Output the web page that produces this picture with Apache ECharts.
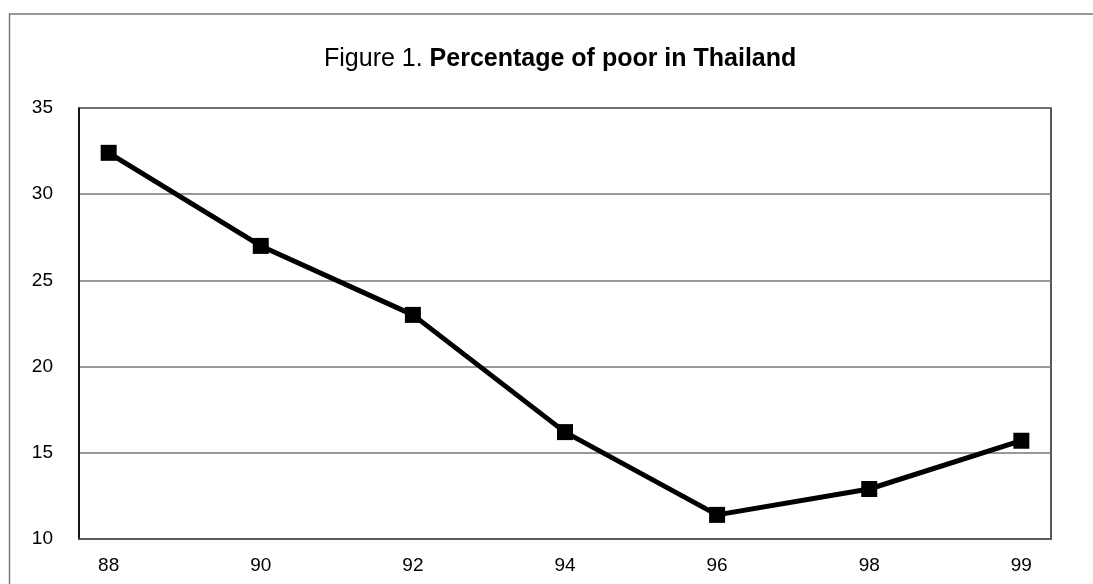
<!DOCTYPE html>
<html>
<head>
<meta charset="utf-8">
<script src="https://cdn.jsdelivr.net/npm/echarts@6/dist/echarts.min.js"></script>
<style>
  html, body { margin: 0; padding: 0; background: #fff; }
  #main { width: 1093px; height: 584px; }
</style>
</head>
<body>
<div id="main"></div>
<script>
// chart data
const years = ['88', '90', '92', '94', '96', '98', '99']
const poorPct = [32.4, 27.0, 23.0, 16.2, 11.4, 12.9, 15.7]
const yTicks = [10, 15, 20, 25, 30, 35]

const chart = echarts.init(document.getElementById('main'))

const font = 'Liberation Sans, Arial, sans-serif'

chart.setOption({
  backgroundColor: '#fff',
  animation: false,
  title: {
    left: 319,
    top: 42,
    text: '{n|Figure 1. }{b|Percentage of poor in Thailand}',
    textStyle: {
      rich: {
        n: { fontFamily: font, fontSize: 25, fontWeight: 'normal', color: '#000' },
        b: { fontFamily: font, fontSize: 25, fontWeight: 'bold', color: '#000' }
      }
    }
  },
  graphic: [
    {
      type: 'rect',
      silent: true,
      shape: { x: 9.5, y: 14, width: 1100, height: 600 },
      style: { fill: 'none', stroke: '#777', lineWidth: 1.5 }
    }
  ],
  grid: {
    left: 79,
    top: 108,
    right: 42,
    bottom: 45,
    show: true,
    borderColor: '#222',
    borderWidth: 1.5
  },
  xAxis: {
    type: 'value',
    min: -0.195,
    max: 6.195,
    splitLine: { show: false },
    axisLine: { onZero: false, lineStyle: { color: '#555', width: 1.5 } },
    axisTick: { show: false },
    axisLabel: {
      customValues: years.map((y, i) => i),
      formatter: v => years[Math.round(v)],
      color: '#000',
      fontFamily: font,
      fontSize: 19,
      margin: 17
    }
  },
  yAxis: {
    type: 'value',
    min: yTicks[0],
    max: yTicks[yTicks.length - 1],
    interval: 5,
    axisLine: { show: true, onZero: false, lineStyle: { color: '#000', width: 1.5 } },
    axisTick: { show: false },
    splitLine: { lineStyle: { color: '#777', width: 1.5 } },
    axisLabel: {
      color: '#000',
      fontFamily: font,
      fontSize: 19,
      margin: 26
    }
  },
  series: [
    {
      type: 'line',
      data: poorPct.map((v, i) => [i, v]),
      symbol: 'rect',
      symbolSize: 16,
      lineStyle: { color: '#000', width: 5 },
      itemStyle: { color: '#000' }
    }
  ]
})
</script>
</body>
</html>
